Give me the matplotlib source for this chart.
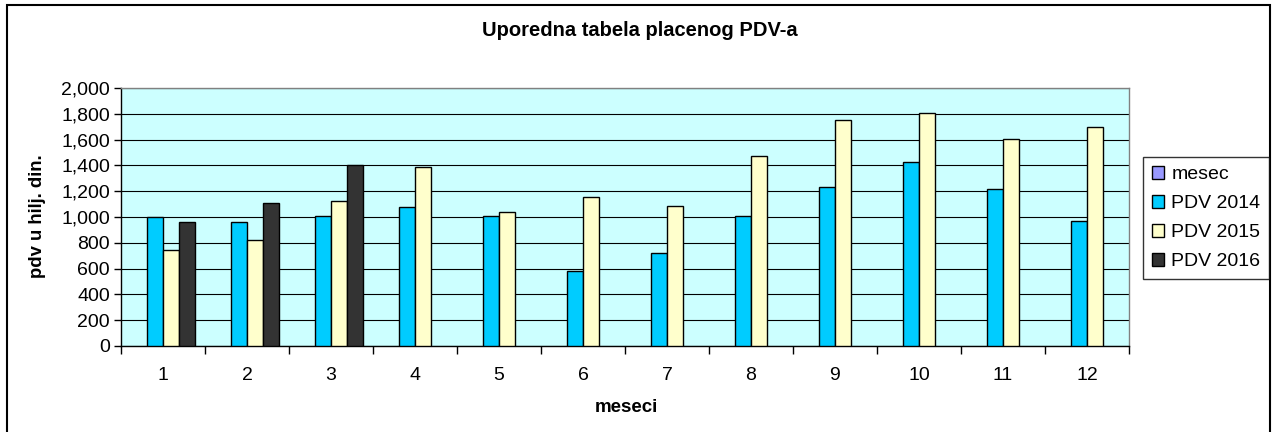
import matplotlib
matplotlib.use("Agg")
import matplotlib.pyplot as plt
import numpy as np
from matplotlib.patches import Rectangle
from matplotlib.ticker import FuncFormatter, FixedLocator

plt.rcParams['font.family'] = ['Liberation Sans', 'DejaVu Sans']

months = ["1", "2", "3", "4", "5", "6", "7", "8", "9", "10", "11", "12"]
mesec = [np.nan] * 12
pdv2014 = [1000, 960, 1010, 1077, 1010, 580, 719, 1010, 1233, 1429, 1215, 969]
pdv2015 = [745, 823, 1126, 1390, 1040, 1155, 1085, 1475, 1750, 1806, 1602, 1700]
pdv2016 = [961, 1106, 1405, np.nan, np.nan, np.nan, np.nan, np.nan, np.nan, np.nan, np.nan, np.nan]
series_names = ["mesec", "PDV 2014", "PDV 2015", "PDV 2016"]
series_colors = ["#9999FF", "#00CCFF", "#FFFFCC", "#333333"]
yticks = list(range(0, 2001, 200))

W, H = 1275, 432
fig = plt.figure(figsize=(W / 100, H / 100), dpi=100)
ax = fig.add_axes([121 / W, 1 - 346 / H, (1129 - 121) / W, (346 - 88) / H])
ax.set_facecolor("#CCFFFF")

x = np.arange(len(months))
bw = 0.19
offsets = [-1.5 * bw, -0.5 * bw, 0.5 * bw, 1.5 * bw]
for vals, name, col, off in zip([mesec, pdv2014, pdv2015, pdv2016], series_names, series_colors, offsets):
    ax.bar(x + off, vals, width=bw, color=col, edgecolor="black", linewidth=1.0, label=name, zorder=3)

ax.set_xlim(-0.5, len(months) - 0.5)
ax.set_ylim(0, 2000)
ax.set_yticks(yticks)
ax.yaxis.set_major_formatter(FuncFormatter(lambda v, p: f"{int(v):,}"))
ax.yaxis.grid(True, color="black", linewidth=0.8, zorder=0)
ax.set_axisbelow(True)

ax.xaxis.set_major_locator(FixedLocator(np.arange(-0.5, len(months), 1.0)))
ax.xaxis.set_major_formatter(FuncFormatter(lambda v, p: ""))
ax.xaxis.set_minor_locator(FixedLocator(x))
ax.set_xticklabels(months, minor=True)
ax.tick_params(axis="x", which="major", direction="out", length=6, width=1, color="black")
ax.tick_params(axis="x", which="minor", length=0, pad=15, labelsize=14)
ax.tick_params(axis="y", direction="out", length=5, width=1, labelsize=14, pad=3)

for s in ["left", "bottom"]:
    ax.spines[s].set_color("black")
    ax.spines[s].set_linewidth(1.0)
for s in ["top", "right"]:
    ax.spines[s].set_color("#808080")
    ax.spines[s].set_linewidth(1.0)

fig.text(640 / W, 1 - 30 / H, "Uporedna tabela placenog PDV-a", ha="center", va="center",
         fontsize=14.5, fontweight="bold")
fig.text(37 / W, 1 - 216 / H, "pdv u hilj. din.", ha="center", va="center", rotation=90,
         fontsize=13.3, fontweight="bold")
fig.text(626 / W, 1 - 408 / H, "meseci", ha="center", va="center", fontsize=13.5, fontweight="bold")

leg = fig.legend(loc="upper left", bbox_to_anchor=(1143 / W, 1 - 157 / H), borderaxespad=0,
                 fontsize=14, fancybox=False, frameon=True, edgecolor="black",
                 handlelength=0.65, handleheight=0.65, handletextpad=0.35, labelspacing=0.6,
                 borderpad=0.45)
leg.get_frame().set_linewidth(1.0)

fig.patches.append(Rectangle((7 / W, -0.05), (1270 - 7) / W, 1 - 5 / H + 0.05,
                             transform=fig.transFigure, fill=False, edgecolor="black",
                             linewidth=1.5))

fig.savefig("out.png", dpi=100, facecolor="white")
